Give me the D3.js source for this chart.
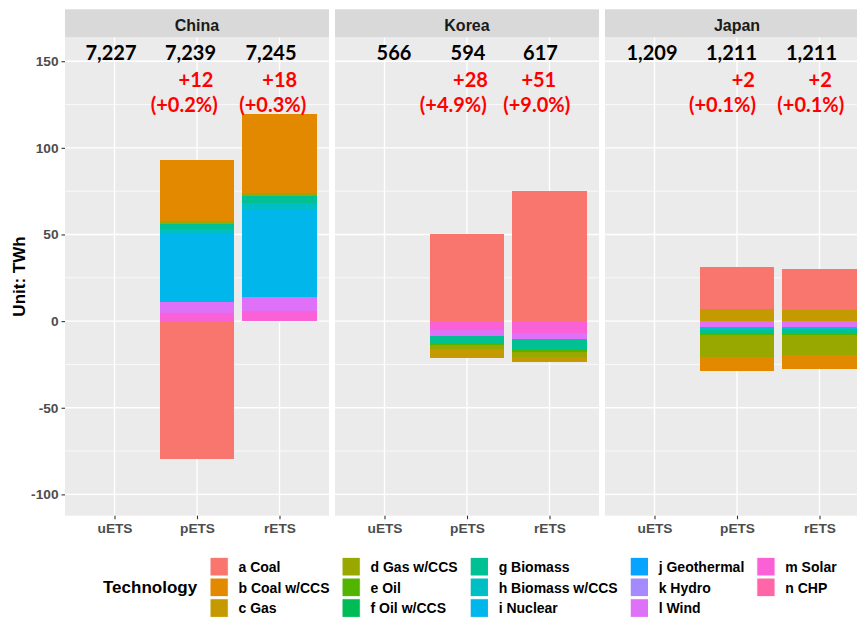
<!DOCTYPE html>
<html>
<head>
<meta charset="utf-8">
<script src="https://cdn.jsdelivr.net/npm/d3@7"></script>
<style>
  html, body { margin: 0; padding: 0; background: #ffffff; }
  svg { display: block; }
</style>
</head>
<body>
<script>
// ---- data -------------------------------------------------------------
const regions = ["China", "Korea", "Japan"];
const scenarios = ["uETS", "pETS", "rETS"];
const technologies = [
  "a Coal", "b Coal w/CCS", "c Gas", "d Gas w/CCS", "e Oil", "f Oil w/CCS",
  "g Biomass", "h Biomass w/CCS", "i Nuclear", "j Geothermal", "k Hydro",
  "l Wind", "m Solar", "n CHP"
];
const techColors = [
  "#F8766D", "#E38900", "#C49A00", "#99A800", "#53B400", "#00BC56", "#00C094",
  "#00BFC4", "#00B6EB", "#06A4FF", "#A58AFF", "#DF70F8", "#FB61D7", "#FF66A8"
];
const yTicks = [-100, -50, 0, 50, 100, 150];
const yMinorTicks = [-75, -25, 25, 75, 125];

// total generation (TWh) per region and scenario
const totalGen = [
  [7227, 7239, 7245],
  [566, 594, 617],
  [1209, 1211, 1211]
];
// change vs. uETS (TWh) and its share (%)
const deltaGen = [
  [null, 12, 18],
  [null, 28, 51],
  [null, 2, 2]
];
const deltaPct = [
  [null, 0.2, 0.3],
  [null, 4.9, 9.0],
  [null, 0.1, 0.1]
];

// change by technology (TWh), in the order of `technologies`
//                a      b     c      d     e    f    g     h    i     j  k  l     m    n
const chinaUETS = [0,     0,    0,     0,    0,   0,   0,    0,   0,    0, 0, 0,    0,   0];
const chinaPETS = [-79.8, 35.0, 0,     1.6,  0,   0,   3.2,  2.3, 39.5, 0, 0, 6.7,  4.4, 0];
const chinaRETS = [0,     45.8, 0,     1.9,  0,   0,   4.2,  3.5, 50.7, 0, 0, 8.1,  5.6, 0];
const koreaUETS = [0,     0,    0,     0,    0,   0,   0,    0,   0,    0, 0, 0,    0,   0];
const koreaPETS = [50.2,  0,   -5.1,  -2.7, -0.6, 0,  -4.4,  0,   0,    0, 0, -3.3, -5.2, 0];
const koreaRETS = [75.0,  0,   -2.6,  -3.2, -1.4, 0,  -5.7,  0,   0,    0, 0, -3.5, -7.1, 0];
const japanUETS = [0,     0,    0,     0,    0,   0,   0,    0,   0,    0, 0, 0,    0,   0];
const japanPETS = [24.6, -8.5,  6.9, -12.3, -1.5, 0,  -1.5, -1.9, 0,    0, 0, -3.3, 0,   0];
const japanRETS = [23.7, -8.0,  6.3, -11.7, -1.2, 0,  -1.9, -1.5, 0,    0, 0, -3.3, 0,   0];

const techValues = [
  [chinaUETS, chinaPETS, chinaRETS],
  [koreaUETS, koreaPETS, koreaRETS],
  [japanUETS, japanPETS, japanRETS]
];

// ---- layout -----------------------------------------------------------
const W = 857, H = 619;
const panelTop = 37.3, panelBottom = 515.7;
const panelW = 264, panelGap = 6, firstPanelX = 65;
const stripTop = 9.3;
// horizontal nudges of the annotation text, per region and scenario
const nudgeTotal = [[-3.5, -6.5, -8.5], [9.5, 1, -9], [-2.5, -5.5, -8]];
const nudgeDelta = [[0, -1, 0.2], [0, 3.5, -10.7], [0, 6.3, 0.7]];
const nudgePct = [[0, -12.8, -6.8], [0, -13.7, -12.8], [0, -14.5, -8.7]];

const svg = d3.select("body").append("svg")
  .attr("width", W).attr("height", H)
  .style("font-family", "'Liberation Sans', Arial, sans-serif");

svg.append("rect").attr("width", W).attr("height", H).attr("fill", "#ffffff");

const y = d3.scaleLinear().domain([-112.3, 163.8]).range([panelBottom, panelTop]);
const color = d3.scaleOrdinal().domain(technologies).range(techColors);

const stack = d3.stack()
  .keys(technologies)
  .order(d3.stackOrderReverse)
  .offset(d3.stackOffsetDiverging);

const fmt = d3.format(",");

regions.forEach((region, ri) => {
  const px = firstPanelX + ri * (panelW + panelGap);
  const x = d3.scalePoint().domain(scenarios).range([0, panelW]).padding(0.6);
  const barW = x.step() * 0.9;

  const g = svg.append("g").attr("transform", `translate(${px},0)`);

  // panel background
  g.append("rect")
    .attr("x", 0).attr("y", panelTop)
    .attr("width", panelW).attr("height", panelBottom - panelTop)
    .attr("fill", "#EBEBEB");

  // grid
  g.selectAll("line.minor").data(yMinorTicks).join("line")
    .attr("x1", 0).attr("x2", panelW)
    .attr("y1", d => y(d)).attr("y2", d => y(d))
    .attr("stroke", "#ffffff").attr("stroke-width", 0.7);
  g.selectAll("line.major").data(yTicks).join("line")
    .attr("x1", 0).attr("x2", panelW)
    .attr("y1", d => y(d)).attr("y2", d => y(d))
    .attr("stroke", "#ffffff").attr("stroke-width", 1.4);
  g.selectAll("line.vmajor").data(scenarios).join("line")
    .attr("x1", d => x(d)).attr("x2", d => x(d))
    .attr("y1", panelTop).attr("y2", panelBottom)
    .attr("stroke", "#ffffff").attr("stroke-width", 1.4);

  // strip
  g.append("rect")
    .attr("x", 0).attr("y", stripTop)
    .attr("width", panelW).attr("height", panelTop - stripTop)
    .attr("fill", "#D9D9D9");
  g.append("text")
    .attr("x", panelW / 2).attr("y", 30.7)
    .attr("text-anchor", "middle")
    .attr("font-size", 16).attr("font-weight", "bold")
    .attr("fill", "#1A1A1A")
    .text(region);

  // stacked bars
  const rows = scenarios.map((s, si) => {
    const row = { scenario: s };
    technologies.forEach((t, ti) => { row[t] = techValues[ri][si][ti]; });
    return row;
  });
  const series = stack(rows);
  g.selectAll("g.series").data(series).join("g")
    .attr("fill", d => color(d.key))
    .attr("shape-rendering", "crispEdges")
    .selectAll("rect").data(d => d.filter(p => p[1] !== p[0])).join("rect")
    .attr("x", d => x(d.data.scenario) - barW / 2)
    .attr("width", barW)
    .attr("y", d => y(Math.max(d[0], d[1])))
    .attr("height", d => Math.abs(y(d[0]) - y(d[1])));

  // x axis
  const xAxis = g.append("g")
    .attr("transform", `translate(0,${panelBottom})`)
    .call(d3.axisBottom(x).tickSize(3.5).tickPadding(4));
  xAxis.select(".domain").remove();
  xAxis.selectAll(".tick line").attr("stroke", "#333333").attr("stroke-width", 1.1);
  xAxis.selectAll(".tick text")
    .attr("font-family", "'Liberation Sans', Arial, sans-serif")
    .attr("font-size", 13.7).attr("font-weight", "bold").attr("fill", "#4D4D4D")
    .attr("dy", "0.71em");

  // annotations: totals and changes
  const lab = g.append("g")
    .style("font-family", "Lato, 'Open Sans', sans-serif")
    .attr("font-weight", "bold").attr("font-size", 20)
    .attr("text-anchor", "middle");
  scenarios.forEach((s, si) => {
    lab.append("text")
      .attr("x", x(s) + nudgeTotal[ri][si]).attr("y", 60)
      .attr("fill", "#000000")
      .text(fmt(totalGen[ri][si]));
    if (deltaGen[ri][si] !== null) {
      lab.append("text")
        .attr("x", x(s) + nudgeDelta[ri][si]).attr("y", 86.5)
        .attr("fill", "#FF0000")
        .text("+" + deltaGen[ri][si]);
      lab.append("text")
        .attr("x", x(s) + nudgePct[ri][si]).attr("y", 112)
        .attr("fill", "#FF0000")
        .text("(+" + deltaPct[ri][si].toFixed(1) + "%)");
    }
  });
});

// y axis (left of the first panel)
const yAxis = svg.append("g")
  .attr("transform", `translate(${firstPanelX},0)`)
  .call(d3.axisLeft(y).tickValues(yTicks).tickFormat(d => String(d))
    .tickSize(3.5).tickPadding(3));
yAxis.select(".domain").remove();
yAxis.selectAll(".tick line").attr("stroke", "#333333").attr("stroke-width", 1.1);
yAxis.selectAll(".tick text")
  .attr("font-family", "'Liberation Sans', Arial, sans-serif")
  .attr("font-size", 13.7).attr("font-weight", "bold").attr("fill", "#4D4D4D");

svg.append("text")
  .attr("transform", `translate(25,${(panelTop + panelBottom) / 2}) rotate(-90)`)
  .attr("text-anchor", "middle")
  .attr("font-size", 17).attr("font-weight", "bold").attr("fill", "#000000")
  .text("Unit: TWh");

// legend
const legend = svg.append("g");
legend.append("text")
  .attr("x", 103).attr("y", 593)
  .attr("font-size", 17).attr("font-weight", "bold").attr("fill", "#000000")
  .text("Technology");

const keyW = 18.3, keyH = 18.7, rowPitch = 20.7, legendTop = 557.3, nRows = 3;
let colX = 210;
for (let c = 0; c * nRows < technologies.length; c++) {
  const items = technologies.slice(c * nRows, c * nRows + nRows);
  let maxW = 0;
  items.forEach((t, r) => {
    const ky = legendTop + r * rowPitch;
    legend.append("rect")
      .attr("x", colX).attr("y", ky)
      .attr("width", keyW).attr("height", keyH)
      .attr("fill", color(t))
      .attr("stroke", "#ffffff").attr("stroke-width", 1);
    const tx = legend.append("text")
      .attr("x", colX + 28.5).attr("y", ky + keyH / 2 + 5.3)
      .attr("font-size", 14).attr("font-weight", "bold").attr("fill", "#000000")
      .text(t);
    maxW = Math.max(maxW, tx.node().getComputedTextLength());
  });
  colX = colX + 28.5 + maxW + 12.5;
}
</script>
</body>
</html>
